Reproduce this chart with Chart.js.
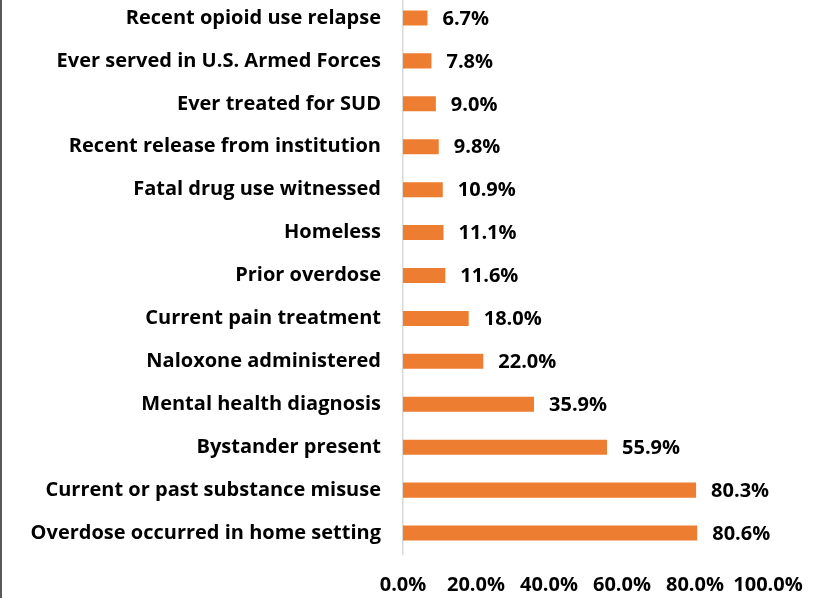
<!DOCTYPE html>
<html>
<head>
<meta charset="utf-8">
<script src="https://cdn.jsdelivr.net/npm/chart.js@4.4.0/dist/chart.umd.min.js"></script>
<style>
  html, body { margin: 0; padding: 0; background: #fff; overflow: hidden; }
  #wrap { position: relative; width: 816px; height: 598px; }
  #wrap canvas { position: absolute; left: 0; top: -4px; }
  #edge { position: absolute; left: 0; top: 0; width: 2px; height: 598px; background: #595959; }
</style>
</head>
<body>
<div id="wrap">
  <canvas id="riskChart" width="816" height="602"></canvas>
  <div id="edge"></div>
</div>
<script>
// Risk factors, top to bottom
const categories = [
    'Recent opioid use relapse',
    'Ever served in U.S. Armed Forces',
    'Ever treated for SUD',
    'Recent release from institution',
    'Fatal drug use witnessed',
    'Homeless',
    'Prior overdose',
    'Current pain treatment',
    'Naloxone administered',
    'Mental health diagnosis',
    'Bystander present',
    'Current or past substance misuse',
    'Overdose occurred in home setting'
];
const percentValues = [6.7, 7.8, 9.0, 9.8, 10.9, 11.1, 11.6, 18.0, 22.0, 35.9, 55.9, 80.3, 80.6];
const tickValues = [0, 20, 40, 60, 80, 100];

const fontFamily = '"Open Sans", Lato, sans-serif';
const labelFont = { family: fontFamily, size: 20, weight: 'bold' };

// draws "xx.x%" to the right of each bar
const valueLabels = {
    id: 'valueLabels',
    afterDatasetsDraw(chart) {
        const ctx = chart.ctx;
        const meta = chart.getDatasetMeta(0);
        ctx.save();
        ctx.font = 'bold 20px ' + fontFamily;
        ctx.fillStyle = '#000';
        ctx.textAlign = 'left';
        ctx.textBaseline = 'middle';
        meta.data.forEach((bar, i) => {
            ctx.fillText(percentValues[i].toFixed(1) + '%', bar.x + 15, bar.y + 1);
        });
        ctx.restore();
    }
};

const ctx = document.getElementById('riskChart').getContext('2d');
new Chart(ctx, {
    type: 'bar',
    data: {
        labels: categories,
        datasets: [{
            data: percentValues,
            backgroundColor: '#ED7D31',
            barPercentage: 0.7,
            categoryPercentage: 0.5
        }]
    },
    options: {
        indexAxis: 'y',
        responsive: false,
        animation: false,
        layout: { padding: { top: 0.5, right: 48, left: 0, bottom: 0 } },
        plugins: {
            legend: { display: false },
            tooltip: { enabled: false }
        },
        scales: {
            x: {
                min: 0,
                max: 100,
                afterBuildTicks: scale => { scale.ticks = tickValues.map(v => ({ value: v })); },
                afterFit: scale => { scale.height = 43.5; scale.paddingLeft = 0; scale.paddingRight = 0; },
                grid: { display: false, drawTicks: false },
                border: { display: false },
                ticks: {
                    color: '#000',
                    font: labelFont,
                    padding: 19,
                    maxRotation: 0,
                    autoSkip: false,
                    callback: value => value.toFixed(1) + '%'
                }
            },
            y: {
                afterFit: scale => { scale.width = 403; scale.paddingTop = 0; scale.paddingBottom = 0; },
                grid: { display: false, drawTicks: false },
                border: { display: true, color: '#D9D9D9', width: 1.5 },
                ticks: {
                    color: '#000',
                    font: labelFont,
                    padding: 22,
                    autoSkip: false
                }
            }
        }
    },
    plugins: [valueLabels]
});
</script>
</body>
</html>
